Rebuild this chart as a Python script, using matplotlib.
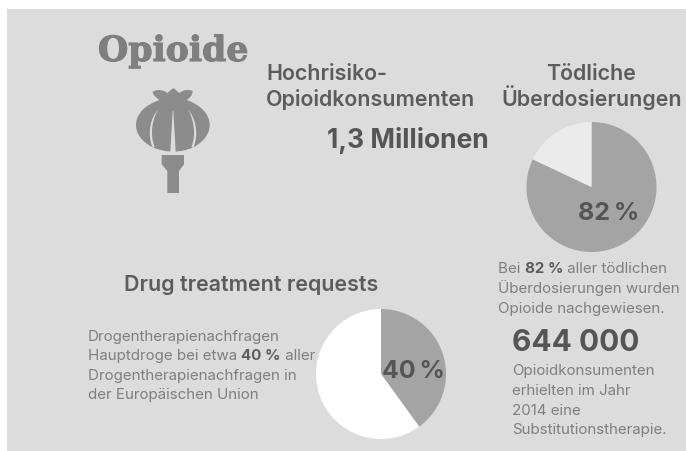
import matplotlib
matplotlib.use("Agg")
import matplotlib.pyplot as plt
import matplotlib.patheffects as pe
from matplotlib.patches import PathPatch, Rectangle
from matplotlib.path import Path

W, H = 686, 452
PANEL = "#dcdcdc"
BODY_FONT = "Inter"
BODY_SIZE = 10.9
HEAD_SIZE = 15.4

# Shares shown by the two pies
overdose_share = [82, 18]
treatment_share = [40, 60]
overdose_label = "82\u2009%"
treatment_label = "40\u2009%"

title = "Opioide"
risk_heading = ["Hochrisiko-", "Opioidkonsumenten"]
risk_value = "1,3 Millionen"
death_heading = ["Tödliche", "Überdosierungen"]
request_heading = "Drug treatment requests"
request_lines = ["Drogentherapienachfragen",
                 "Hauptdroge bei etwa", "40 %", "aller",
                 "Drogentherapienachfragen in",
                 "der Europäischen Union"]
death_note = ["Überdosierungen wurden", "Opioide nachgewiesen."]
therapy_value = "644 000"
therapy_lines = ["Opioidkonsumenten", "erhielten im Jahr", "2014 eine",
                 "Substitutionstherapie."]

fig = plt.figure(figsize=(W / 100, H / 100), dpi=100, facecolor="white")

backdrop = fig.add_axes([0, 0, 1, 1], zorder=0)
backdrop.set_xlim(0, W)
backdrop.set_ylim(H, 0)
backdrop.axis("off")
backdrop.add_patch(Rectangle((7, 10), W - 7, H - 10, fc=PANEL, ec="none"))

# Text and the icon sit on a transparent layer above the pies
canvas = fig.add_axes([0, 0, 1, 1], zorder=2)
canvas.set_xlim(0, W)
canvas.set_ylim(H, 0)
canvas.axis("off")


def label(x, y, s, size, color="#7f7f7f", weight="normal", family=BODY_FONT, ha="left"):
    return canvas.text(x, y, s, fontsize=size, color=color, fontweight=weight,
                       family=family, ha=ha, va="baseline")


def run(x, y, parts, size, color="#7f7f7f"):
    # Lay out regular and bold pieces one after another on a baseline
    renderer = fig.canvas.get_renderer()
    for s, weight, col in parts:
        t = label(x, y, s.replace(" ", "\u00a0"), size, col or color, weight)
        x = t.get_window_extent(renderer).x1


def pie(cx, cy, r, shares, colors):
    ax = fig.add_axes([(cx - r) / W, 1 - (cy + r) / H, 2 * r / W, 2 * r / H], zorder=1)
    ax.pie(shares, colors=colors, startangle=90, counterclock=False, radius=1,
           wedgeprops={"linewidth": 0})
    ax.set_xlim(-1, 1)
    ax.set_ylim(-1, 1)
    return ax


pie(591.5, 188, 65, overdose_share, ["#a4a4a4", "#ebebeb"])
pie(381, 375, 65, treatment_share, ["#a4a4a4", "#ffffff"])


def shape(points, codes, color):
    # Icon outlines are written at three times pixel scale, offset to its corner
    verts = [(80 + u / 3, 20 + v / 3) for u, v in points]
    canvas.add_patch(PathPatch(Path(verts, codes), fc=color, ec="none"))


M, L, C3, Z = Path.MOVETO, Path.LINETO, Path.CURVE4, Path.CLOSEPOLY
ICON = "#8c8c8c"

# Poppy capsule body with crown
capsule = [(218, 385),
           (180, 365), (168, 340), (168, 318),
           (168, 285), (195, 258), (238, 243),
           (228, 235), (218, 228), (218, 218),
           (232, 210), (250, 212), (262, 222),
           (268, 218), (274, 210), (280, 208),
           (286, 210), (292, 218), (298, 222),
           (310, 212), (325, 210), (338, 216),
           (338, 228), (330, 236), (320, 243),
           (362, 258), (389, 285), (389, 318),
           (389, 340), (377, 365), (340, 385),
           (325, 392), (300, 398), (279, 398),
           (258, 398), (235, 392), (218, 385)]
shape(capsule, [M] + [C3] * (len(capsule) - 1), ICON)

# Pale seams between the capsule lobes
seam_codes = [M, C3, C3, C3, L, C3, C3, C3, Z]
shape([(234, 272), (212, 295), (200, 345), (218, 386),
       (224, 384), (208, 345), (218, 298), (234, 272), (234, 272)],
      seam_codes, PANEL)
shape([(324, 272), (346, 295), (358, 345), (340, 386),
       (334, 384), (350, 345), (340, 298), (324, 272), (324, 272)],
      seam_codes, PANEL)
shape([(278, 276), (280, 276), (287, 399), (271, 399), (278, 276)],
      [M, L, L, L, Z], PANEL)

# Stem
shape([(245, 408), (312, 408), (312, 436), (297, 456), (297, 522), (262, 522),
       (262, 456), (245, 436), (245, 408)],
      [M, L, L, L, L, L, L, L, Z], ICON)

heading = label(98, 62, title, 25, "#7f7f7f", "bold", family="DejaVu Serif")
heading.set_path_effects([pe.withStroke(linewidth=0.8, foreground="#7f7f7f")])

label(266, 80, risk_heading[0], HEAD_SIZE, "#5c5c5c", "semibold")
label(266, 106, risk_heading[1], HEAD_SIZE, "#5c5c5c", "semibold")
label(327, 148, risk_value, 19, "#555555", "bold")

label(591.5, 80, death_heading[0], HEAD_SIZE, "#5c5c5c", "semibold", ha="center")
label(591.5, 106, death_heading[1], HEAD_SIZE, "#5c5c5c", "semibold", ha="center")

label(608.5, 220, overdose_label, 18, "#555555", "bold", ha="center")
label(413.5, 378, treatment_label, 18, "#555555", "bold", ha="center")

run(498, 273, [("Bei ", "normal", None), ("82 %", "bold", "#5c5c5c"),
               (" aller tödlichen", "normal", None)], BODY_SIZE)
label(498, 293, death_note[0], BODY_SIZE)
label(498, 313, death_note[1], BODY_SIZE)

label(124, 291, request_heading, HEAD_SIZE, "#5c5c5c", "semibold")
label(88, 341, request_lines[0], BODY_SIZE)
run(88, 360, [(request_lines[1] + " ", "normal", None), (request_lines[2], "bold", "#5c5c5c"),
              (" " + request_lines[3], "normal", None)], BODY_SIZE)
label(88, 380, request_lines[4], BODY_SIZE)
label(88, 399, request_lines[5], BODY_SIZE)

label(512, 351, therapy_value, 21.5, "#555555", "bold")
for y, line in zip([375, 395, 415, 434], therapy_lines):
    label(512, y, line, BODY_SIZE)

fig.savefig("out.png", dpi=100)
